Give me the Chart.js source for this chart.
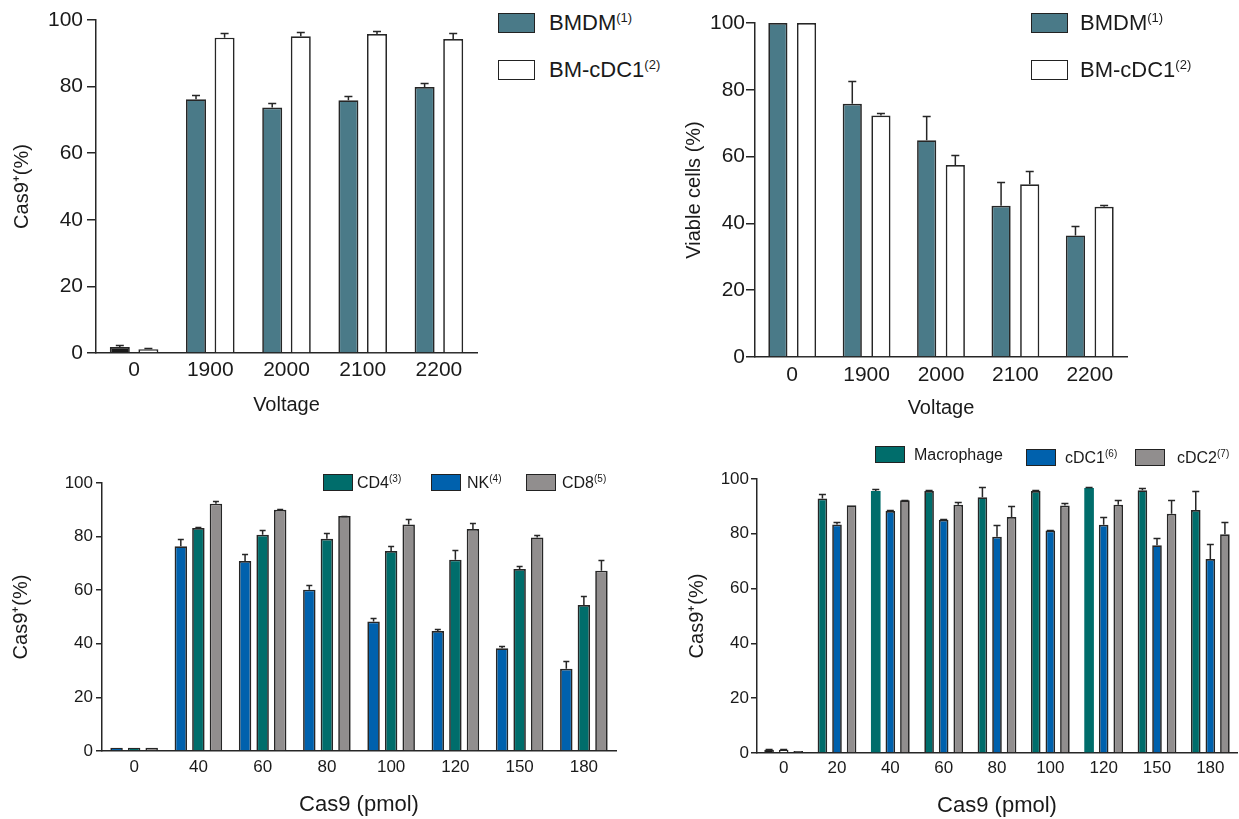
<!DOCTYPE html>
<html>
<head>
<meta charset="utf-8">
<script src="https://cdn.jsdelivr.net/npm/chart.js@4.4.1/dist/chart.umd.min.js"></script>
<style>
  body { margin: 0; background: #fff; width: 1239px; height: 819px; position: relative; overflow: hidden; }
  canvas { position: absolute; }
  .box { position: absolute; border: 1.5px solid #222; box-sizing: border-box; }
  .lbl { position: absolute; font-family: "Liberation Sans", Arial, sans-serif; color: #1a1a1a; white-space: nowrap; }
  .lbl sup { line-height: 0; }
</style>
</head>
<body>
<canvas id="c1" width="490" height="420" style="left:0;top:0"></canvas>
<canvas id="c2" width="470" height="420" style="left:670px;top:0"></canvas>
<canvas id="c3" width="630" height="389" style="left:0;top:430px"></canvas>
<canvas id="c4" width="569" height="389" style="left:670px;top:430px"></canvas>
<div id="legends"></div>
<script>
// ---- data ----
const voltages = ['0', '1900', '2000', '2100', '2200'];
const cas9Bmdm = [1.8, 76.2, 73.7, 75.9, 79.9];
const cas9BmdmErr = [0.5, 1.3, 1.5, 1.3, 1.1];
const cas9Cdc1 = [1.1, 94.7, 95.1, 95.8, 94.3];
const cas9Cdc1Err = [0.4, 1.5, 1.3, 1.0, 1.8];

const viableBmdm = [100, 75.8, 64.9, 45.3, 36.4];
const viableBmdmErr = [0, 6.7, 7.3, 7.1, 2.8];
const viableCdc1 = [100, 72.3, 57.5, 51.7, 45.0];
const viableCdc1Err = [0, 0.7, 3.0, 4.0, 0.6];

const pmolT = ['0', '40', '60', '80', '100', '120', '150', '180'];
const nk = [1.2, 76.4, 70.9, 60.2, 48.3, 44.8, 38.3, 30.7];
const nkErr = [0, 2.8, 2.6, 1.7, 1.5, 0.6, 0.9, 2.8];
const cd4 = [1.2, 83.2, 80.7, 79.2, 74.6, 71.4, 67.9, 54.5];
const cd4Err = [0, 0.2, 1.6, 2.1, 1.8, 3.5, 1.1, 3.3];
const cd8 = [1.2, 92.3, 90.0, 87.7, 84.5, 82.8, 79.7, 67.3];
const cd8Err = [0, 0.9, 0.2, 0.1, 2.1, 2.2, 1.0, 4.1];

const pmolM = ['0', '20', '40', '60', '80', '100', '120', '150', '180'];
const macro = [1.2, 92.9, 95.6, 95.6, 93.3, 95.6, 96.7, 95.9, 88.7];
const macroErr = [0.4, 1.5, 0.9, 0.4, 3.9, 0.4, 0.5, 0.8, 6.9];
const cdc1 = [1.2, 83.4, 88.3, 85.1, 78.9, 81.2, 83.3, 75.8, 70.8];
const cdc1Err = [0.3, 0.8, 0.4, 0.4, 4.2, 0.3, 2.7, 2.5, 5.3];
const cdc2 = [0.7, 90.4, 92.2, 90.6, 86.1, 90.3, 90.6, 87.3, 79.8];
const cdc2Err = [0, 0, 0.2, 1.1, 4.0, 1.1, 1.8, 4.9, 4.4];

const steel = '#4a7a88', teal = '#006d6b', blue = '#0061ad', grey = '#918e8e', edge = '#262626';

Chart.defaults.font.family = '"Liberation Sans", Arial, sans-serif';
Chart.defaults.color = '#1a1a1a';

// upward-only error bars with a cap
const errorBars = {
  id: 'errorBars',
  afterDatasetsDraw(chart, args, opts) {
    const ctx = chart.ctx, y = chart.scales.y;
    ctx.save();
    ctx.strokeStyle = edge;
    ctx.lineWidth = 1.5;
    chart.data.datasets.forEach((ds, i) => {
      if (!ds.errors) return;
      chart.getDatasetMeta(i).data.forEach((bar, j) => {
        const e = ds.errors[j];
        if (!e) return;
        const top = Math.round(y.getPixelForValue(ds.data[j] + e)) + 0.5;
        ctx.beginPath();
        ctx.moveTo(bar.x, bar.y);
        ctx.lineTo(bar.x, top);
        ctx.moveTo(bar.x - opts.cap / 2, top);
        ctx.lineTo(bar.x + opts.cap / 2, top);
        ctx.stroke();
      });
    });
    ctx.restore();
  }
};

function makeChart(id, labels, datasets, o) {
  return new Chart(document.getElementById(id), {
    type: 'bar',
    data: { labels: labels, datasets: datasets },
    plugins: [errorBars],
    options: {
      responsive: false,
      animation: false,
      layout: { padding: { left: 0, top: o.top, right: o.right, bottom: 0 } },
      datasets: { bar: { categoryPercentage: o.catPct, barPercentage: o.barPct, borderColor: edge, borderWidth: 1.7 } },
      plugins: { legend: { display: false }, tooltip: { enabled: false }, errorBars: { cap: o.cap } },
      scales: {
        x: {
          grid: { display: false, drawTicks: false },
          border: { color: edge, width: 1.5 },
          ticks: { font: { size: o.tick }, padding: o.xPad, maxRotation: 0, autoSkip: false },
          title: { display: true, text: o.xTitle, font: { size: o.xTitleSize }, padding: { top: 0, bottom: o.xTitlePad } },
          afterFit(s) { s.height = o.xHeight; }
        },
        y: {
          min: 0, max: 100,
          grid: { drawOnChartArea: false, tickLength: o.tickLen, color: edge, lineWidth: 1.5 },
          border: { color: edge, width: 1.5 },
          ticks: { stepSize: 20, font: { size: o.tick }, padding: o.yPad },
          title: { display: true, text: o.yTitle, font: { size: 20 }, padding: { top: o.yTitlePad, bottom: 0 } },
          afterFit(s) { s.width = o.yWidth; }
        }
      }
    }
  });
}

makeChart('c1', voltages, [
  { label: 'BMDM(1)', data: cas9Bmdm, errors: cas9BmdmErr, backgroundColor: ['#1a1a1a', steel, steel, steel, steel] },
  { label: 'BM-cDC1(2)', data: cas9Cdc1, errors: cas9Cdc1Err, backgroundColor: '#ffffff' }
], { top: 20, right: 13, yWidth: 96, xHeight: 67, catPct: 0.75, barPct: 0.70, cap: 8, tick: 21, tickLen: 9, yPad: 4, xPad: 5,
     xTitle: 'Voltage', xTitleSize: 20, xTitlePad: 3, yTitle: 'Cas9\u207A(%)', yTitlePad: 10 });

makeChart('c2', voltages, [
  { label: 'BMDM(1)', data: viableBmdm, errors: viableBmdmErr, backgroundColor: steel },
  { label: 'BM-cDC1(2)', data: viableCdc1, errors: viableCdc1Err, backgroundColor: '#ffffff' }
], { top: 23, right: 13, yWidth: 85, xHeight: 63, catPct: 0.77, barPct: 0.67, cap: 8, tick: 21, tickLen: 9, yPad: 1, xPad: 6,
     xTitle: 'Voltage', xTitleSize: 20, xTitlePad: 0, yTitle: 'Viable cells (%)', yTitlePad: 12 });

makeChart('c3', pmolT, [
  { label: 'NK(4)', data: nk, errors: nkErr, backgroundColor: blue },
  { label: 'CD4(3)', data: cd4, errors: cd4Err, backgroundColor: teal },
  { label: 'CD8(5)', data: cd8, errors: cd8Err, backgroundColor: grey }
], { top: 53, right: 14, yWidth: 102, xHeight: 68, catPct: 0.82, barPct: 0.71, cap: 6, tick: 17, tickLen: 6, yPad: 3, xPad: 6,
     xTitle: 'Cas9 (pmol)', xTitleSize: 22, xTitlePad: 1, yTitle: 'Cas9\u207A(%)', yTitlePad: 9 });

makeChart('c4', pmolM, [
  { label: 'Macrophage', data: macro, errors: macroErr, backgroundColor: ['#1a1a1a', teal, teal, teal, teal, teal, teal, teal, teal],
    borderWidth: [1.7, 1.7, 0, 1.7, 1.7, 1.7, 0, 1.7, 1.7] },
  { label: 'cDC1(6)', data: cdc1, errors: cdc1Err, backgroundColor: ['#ffffff', blue, blue, blue, blue, blue, blue, blue, blue] },
  { label: 'cDC2(7)', data: cdc2, errors: cdc2Err, backgroundColor: ['#555555', grey, grey, grey, grey, grey, grey, grey, grey] }
], { top: 49, right: 2, yWidth: 87, xHeight: 66, catPct: 0.82, barPct: 0.66, cap: 7, tick: 17, tickLen: 6, yPad: 2, xPad: 5,
     xTitle: 'Cas9 (pmol)', xTitleSize: 22, xTitlePad: 0, yTitle: 'Cas9\u207A(%)', yTitlePad: 15 });

// html legends (superscript reference marks)
function legendItem(x, y, w, h, color, textX, name, mark, size, supSize) {
  const box = document.createElement('div');
  box.className = 'box';
  box.style.cssText = `left:${x}px;top:${y}px;width:${w}px;height:${h}px;background:${color}`;
  const t = document.createElement('div');
  t.className = 'lbl';
  t.style.cssText = `left:${textX}px;top:${y}px;height:${h}px;line-height:${h}px;font-size:${size}px`;
  t.innerHTML = name + (mark ? `<sup style="font-size:${supSize}px;vertical-align:${Math.round(size * 0.35)}px">${mark}</sup>` : '');
  document.getElementById('legends').append(box, t);
}
legendItem(498, 13, 37, 20, steel, 549, 'BMDM', '(1)', 22, 13);
legendItem(498, 60, 37, 20, '#ffffff', 549, 'BM-cDC1', '(2)', 22, 13);
legendItem(1031, 13, 37, 20, steel, 1080, 'BMDM', '(1)', 22, 13);
legendItem(1031, 60, 37, 20, '#ffffff', 1080, 'BM-cDC1', '(2)', 22, 13);
legendItem(323, 474, 30, 17, teal, 357, 'CD4', '(3)', 16, 10);
legendItem(431, 474, 30, 17, blue, 467, 'NK', '(4)', 16, 10);
legendItem(526, 474, 30, 17, grey, 562, 'CD8', '(5)', 16, 10);
legendItem(875, 446, 30, 17, teal, 914, 'Macrophage', '', 16, 10);
legendItem(1026, 449, 30, 17, blue, 1065, 'cDC1', '(6)', 16, 10);
legendItem(1135, 449, 30, 17, grey, 1177, 'cDC2', '(7)', 16, 10);
</script>
</body>
</html>
